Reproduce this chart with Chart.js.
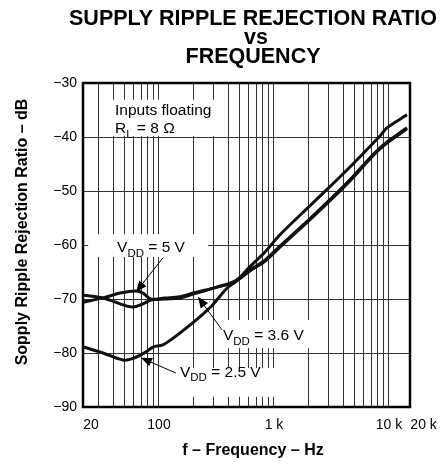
<!DOCTYPE html>
<html>
<head>
<meta charset="utf-8">
<script src="https://cdn.jsdelivr.net/npm/chart.js@4.4.1/dist/chart.umd.min.js"></script>
<style>
html, body { margin: 0; padding: 0; background: #fff; }
#wrap { width: 448px; height: 468px; }
</style>
</head>
<body>
<div id="wrap"><canvas id="chart" width="448" height="468"></canvas></div>
<script>
/**
 * 数据 (Hz, dB)
 */
var freq5 = [22, 32.6, 45.8, 63, 72.6, 85, 112, 152, 198, 319, 458, 618, 835, 1127, 2183, 4315, 8353, 9610, 14350];
var vdd5 = [-70.6, -69.8, -68.9, -68.5, -68.9, -70.0, -69.8, -69.6, -68.9, -67.8, -66.7, -64.0, -61.3, -58.1, -52.2, -46.1, -39.8, -38.3, -35.9];

var freq36 = [22, 32.6, 45.8, 59.4, 72.6, 85, 112, 152, 198, 319, 458, 618, 835, 1127, 2183, 4315, 8353, 14350];
var vdd36 = [-69.3, -69.8, -70.9, -71.5, -70.9, -70.2, -70.0, -69.8, -69.1, -67.8, -66.7, -64.6, -62.8, -60.2, -54.6, -48.5, -42.0, -38.3];

var freq25 = [22, 32.6, 48.7, 59.4, 77.1, 88.7, 108, 152, 210, 241, 295, 390, 458, 618, 835, 1127, 2183, 4315, 8353, 14350];
var vdd25 = [-78.9, -80.0, -81.3, -81.0, -79.8, -78.9, -78.5, -76.3, -73.9, -72.8, -71.0, -68.0, -66.9, -64.8, -63.0, -60.4, -54.8, -48.7, -42.2, -38.5];

// 网格线位置和刻度文字
var xGrid = [30, 40, 50, 60, 70, 80, 90, 100, 200, 300, 400, 500, 600, 700, 800, 900,
    1000, 2000, 3000, 4000, 5000, 6000, 7000, 8000, 9000, 10000];
var xTickValues = [20, 100, 1000, 10000, 20000];
var xTickLabels = ['20', '100', '1 k', '10 k', '20 k'];
var yTicks = [-30, -40, -50, -60, -70, -80, -90];

var titleLines = ['SUPPLY RIPPLE REJECTION RATIO', 'vs', 'FREQUENCY'];
var xTitle = 'f \u2013 Frequency \u2013 Hz';
var yTitle = 'Sopply Ripple Rejection Ratio \u2013 dB';

var FAMILY = '"Liberation Sans", Arial, Helvetica, sans-serif';
var MAIN_FONT = '15.5px ' + FAMILY;
var SUB_FONT = '11.5px ' + FAMILY;

function toXY(xs, ys) {
    return xs.map(function (x, i) { return {x: x, y: ys[i]}; });
}

function pt(chart, f, db) {
    return [chart.scales.x.getPixelForValue(f), chart.scales.y.getPixelForValue(db)];
}

// 带下标的文字
function drawParts(ctx, x, y, parts) {
    parts.forEach(function (p) {
        ctx.font = p[1] ? SUB_FONT : MAIN_FONT;
        ctx.fillText(p[0], x, y + (p[1] ? 4.5 : 0));
        x += ctx.measureText(p[0]).width;
    });
}

function whiteBox(chart, f1, d1, f2, d2) {
    var a = pt(chart, f1, d1), b = pt(chart, f2, d2);
    chart.ctx.fillStyle = '#fff';
    chart.ctx.fillRect(a[0], a[1], b[0] - a[0], b[1] - a[1]);
}

function arrow(chart, f1, d1, f2, d2) {
    var ctx = chart.ctx;
    var a = pt(chart, f1, d1), b = pt(chart, f2, d2);
    var ang = Math.atan2(b[1] - a[1], b[0] - a[0]);
    var len = 11, hw = 4.5;
    ctx.strokeStyle = '#000';
    ctx.lineWidth = 1;
    ctx.beginPath();
    ctx.moveTo(a[0], a[1]);
    ctx.lineTo(b[0] - Math.cos(ang) * len * 0.8, b[1] - Math.sin(ang) * len * 0.8);
    ctx.stroke();
    ctx.fillStyle = '#000';
    ctx.beginPath();
    ctx.moveTo(b[0], b[1]);
    ctx.lineTo(b[0] - Math.cos(ang) * len - Math.sin(ang) * hw, b[1] - Math.sin(ang) * len + Math.cos(ang) * hw);
    ctx.lineTo(b[0] - Math.cos(ang) * len + Math.sin(ang) * hw, b[1] - Math.sin(ang) * len - Math.cos(ang) * hw);
    ctx.closePath();
    ctx.fill();
}

/**
 * 标题, 标注和边框
 */
var notesPlugin = {
    id: 'notes',
    beforeDatasetsDraw: function (chart) {
        var ctx = chart.ctx;
        ctx.save();
        whiteBox(chart, 37.5, -33.1, 319, -39.8);
        whiteBox(chart, 24.2, -58.0, 267, -62.2);
        whiteBox(chart, 326, -73.9, 2183, -79.1);
        whiteBox(chart, 130, -82.8, 1062, -88.1);
        ctx.restore();
    },
    afterDatasetsDraw: function (chart) {
        var ctx = chart.ctx;
        var area = chart.chartArea;
        ctx.save();
        ctx.fillStyle = '#000';
        ctx.textBaseline = 'alphabetic';
        ctx.textAlign = 'left';

        var p = pt(chart, 41.4, -35.9);
        drawParts(ctx, p[0], p[1], [['Inputs floating', false]]);
        p = pt(chart, 41.4, -39.3);
        drawParts(ctx, p[0], p[1], [['R', false], ['L', true], [' = 8 \u03A9', false]]);
        p = pt(chart, 43.2, -61.3);
        drawParts(ctx, p[0], p[1], [['V', false], ['DD', true], [' = 5 V', false]]);
        p = pt(chart, 360, -77.6);
        drawParts(ctx, p[0], p[1], [['V', false], ['DD', true], [' = 3.6 V', false]]);
        p = pt(chart, 152, -84.4);
        drawParts(ctx, p[0], p[1], [['V', false], ['DD', true], [' = 2.5 V', false]]);

        arrow(chart, 108, -62.4, 63.1, -68.7);
        arrow(chart, 353, -75.7, 218, -69.6);
        arrow(chart, 140, -83.7, 69.7, -80.9);

        // x轴刻度文字
        ctx.font = '14px ' + FAMILY;
        ctx.textAlign = 'center';
        ctx.textBaseline = 'top';
        xTickValues.forEach(function (v, i) {
            var x = Math.max(chart.scales.x.getPixelForValue(v), area.left + 8);
            ctx.fillText(xTickLabels[i], x, area.bottom + 11);
        });

        // 标题
        ctx.textBaseline = 'alphabetic';
        ctx.font = 'bold 21.5px ' + FAMILY;
        ctx.fillText(titleLines[0], 253, 25);
        ctx.fillText(titleLines[1], 256, 44);
        ctx.fillText(titleLines[2], 253, 63);

        // 轴标题
        ctx.font = 'bold 16px ' + FAMILY;
        ctx.fillText(xTitle, 253, 455);
        ctx.save();
        ctx.translate(23, 232);
        ctx.rotate(-Math.PI / 2);
        ctx.textBaseline = 'middle';
        ctx.fillText(yTitle, 0, 0);
        ctx.restore();

        // 边框
        ctx.strokeStyle = '#000';
        ctx.lineWidth = 2.5;
        ctx.strokeRect(area.left, area.top, area.right - area.left, area.bottom - area.top);
        ctx.restore();
    }
};

var ctx = document.getElementById('chart').getContext('2d');

var lineStyle = {
    borderColor: '#111',
    borderWidth: 3,
    pointRadius: 0,
    fill: false,
    tension: 0.35
};

window.myChart = new Chart(ctx, {
    type: 'line',
    data: {
        datasets: [
            Object.assign({label: 'VDD = 5 V', data: toXY(freq5, vdd5)}, lineStyle),
            Object.assign({label: 'VDD = 3.6 V', data: toXY(freq36, vdd36)}, lineStyle),
            Object.assign({label: 'VDD = 2.5 V', data: toXY(freq25, vdd25)}, lineStyle)
        ]
    },
    options: {
        responsive: false,
        animation: false,
        events: [],
        layout: {
            padding: {left: 0, right: 38, top: 83, bottom: 0}
        },
        plugins: {
            legend: {display: false},
            tooltip: {enabled: false},
            title: {display: false}
        },
        scales: {
            x: {
                type: 'logarithmic',
                min: 21.83,
                max: 15240,
                afterBuildTicks: function (scale) {
                    scale.ticks = xGrid.map(function (v) { return {value: v}; });
                },
                afterFit: function (scale) {
                    scale.height = 61;
                },
                ticks: {display: false},
                grid: {color: '#333', lineWidth: 1, drawTicks: false},
                border: {display: false}
            },
            y: {
                min: -90,
                max: -30,
                afterBuildTicks: function (scale) {
                    scale.ticks = yTicks.map(function (v) { return {value: v}; });
                },
                afterFit: function (scale) {
                    scale.width = 83;
                },
                ticks: {
                    color: '#000',
                    padding: 6,
                    font: {family: FAMILY, size: 14},
                    callback: function (v) { return '\u2212' + Math.abs(v); }
                },
                grid: {color: '#333', lineWidth: 1, drawTicks: false},
                border: {display: false}
            }
        }
    },
    plugins: [notesPlugin]
});
</script>
</body>
</html>
